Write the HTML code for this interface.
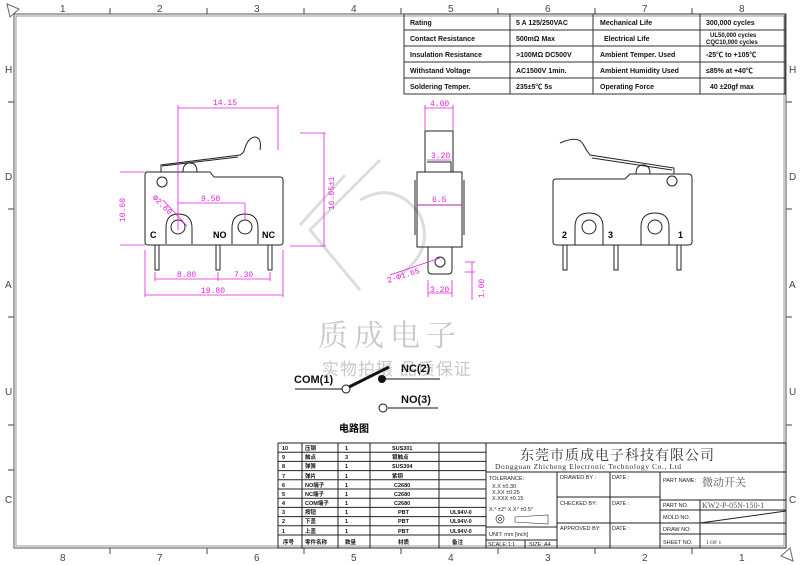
<!DOCTYPE html>
<html><head><meta charset="utf-8"><style>
html,body{margin:0;padding:0;background:#fff;}
svg{display:block;}
text{font-family:"Liberation Sans","Noto Sans CJK SC",sans-serif;}
.s{font-family:"Liberation Serif","Noto Serif CJK SC",serif;}
.m{stroke:#e020e0;stroke-width:0.8;fill:none;}
.mt{fill:#e020e0;font-size:8px;font-family:"Liberation Mono",monospace;}
.k{stroke:#222;stroke-width:1;fill:none;}
.b{font-weight:bold;font-size:9px;}
.t{font-size:7px;}
</style></head><body>
<svg width="800" height="565" viewBox="0 0 800 565" xmlns="http://www.w3.org/2000/svg">
<rect x="14" y="14" width="772" height="534" fill="none" stroke="#555" stroke-width="1"/>
<rect x="16" y="16" width="768" height="530" fill="none" stroke="#999" stroke-width="1"/>
<polygon points="7,4 19,9 10,17" fill="none" stroke="#666"/>
<polygon points="793,561 781,556 790,548" fill="none" stroke="#666"/>
<g font-size="10" fill="#444">
<text x="60" y="12">1</text><text x="157" y="12">2</text><text x="254" y="12">3</text><text x="351" y="12">4</text><text x="448" y="12">5</text><text x="545" y="12">6</text><text x="642" y="12">7</text><text x="739" y="12">8</text>
<text x="60" y="561">8</text><text x="157" y="561">7</text><text x="254" y="561">6</text><text x="351" y="561">5</text><text x="448" y="561">4</text><text x="545" y="561">3</text><text x="642" y="561">2</text><text x="739" y="561">1</text>
<text x="5" y="73">H</text><text x="5" y="180">D</text><text x="5" y="288">A</text><text x="5" y="395">U</text><text x="5" y="503">C</text>
<text x="789" y="73">H</text><text x="789" y="180">D</text><text x="789" y="288">A</text><text x="789" y="395">U</text><text x="789" y="503">C</text>
</g>
<g stroke="#444" stroke-width="1">
<path d="M110 8V14M207 8V14M304 8V14M401 8V14M498 8V14M595 8V14M692 8V14"/>
<path d="M110 548V554M207 548V554M304 548V554M401 548V554M498 548V554M595 548V554M692 548V554"/>
<path d="M8 102H14M8 209H14M8 317H14M8 425H14M8 470H14M786 102H792M786 209H792M786 317H792M786 425H792"/>
</g>
<g stroke="#333" stroke-width="1" fill="none">
<rect x="404" y="14" width="381" height="80"/>
<path d="M404 30H785M404 46H785M404 62H785M404 78H785M510 14V94M593 14V94M700 14V94"/>
</g>
<g class="t" font-weight="bold" fill="#111">
<text x="410" y="25">Rating</text><text x="516" y="25">5 A  125/250VAC</text><text x="600" y="25">Mechanical Life</text><text x="706" y="25">300,000 cycles</text>
<text x="410" y="41">Contact Resistance</text><text x="516" y="41">500mΩ  Max</text><text x="604" y="41">Electrical Life</text><text x="710" y="37" font-size="6">UL50,000 cycles</text><text x="706" y="44" font-size="6">CQC10,000 cycles</text>
<text x="410" y="57">Insulation Resistance</text><text x="516" y="57">&gt;100MΩ DC500V</text><text x="600" y="57">Ambient Temper. Used</text><text x="706" y="57">-25℃ to +105℃</text>
<text x="410" y="73">Withstand Voltage</text><text x="516" y="73">AC1500V  1min.</text><text x="600" y="73">Ambient Humidity Used</text><text x="706" y="73">≤85% at +40℃</text>
<text x="410" y="89">Soldering Temper.</text><text x="516" y="89">235±5℃ 5s</text><text x="600" y="89">Operating Force</text><text x="710" y="89">40 ±20gf max</text>
</g>
<g fill="none" stroke="#ddd" stroke-width="3">
<path d="M380 160 L310 230 L360 290 M345 175 L300 225"/>
<path d="M360 200 Q395 180 420 215 Q435 250 400 275"/>
</g>
<text x="318" y="346" font-size="30" fill="#c8c8c8" letter-spacing="6" class="s">质成电子</text>
<text x="322" y="375" font-size="17" fill="#c8c8c8" letter-spacing="1">实物拍摄 品质保证</text>
<g class="k">
<path d="M146 172 H210 L214 177 H280 Q283 177 283 180 V242 Q283 245 280 245 H148 Q145 245 145 242 V175 Q145 172 148 172Z"/>
<path d="M166 244 V228 Q166 214 178 214 Q192 214 192 228 V244 M232 244 V228 Q232 214 245 214 Q258 214 258 228 V244"/>
<circle cx="178" cy="227" r="7"/><circle cx="245" cy="227" r="7"/>
<circle cx="162" cy="182" r="5"/>
<path d="M155 245V270H159V245M216 245V270H220V245M268 245V270H272V245"/>
<path d="M183 172 Q183 163 190 163 Q197 163 197 172"/>
<path d="M161 172 V165 L240 155 Q244 153 245 148 Q248 138 255 137 Q262 138 260 150"/>
<path d="M162 166 L238 157"/>
</g>
<g class="b"><text x="150" y="238">C</text><text x="213" y="238">NO</text><text x="262" y="238">NC</text></g>
<g class="m">
<path d="M178 105V230M278 105V150M178 108H278M178 203H245M245 203V220M300 133H326M290 246H326M324 133V246M145 250V297M283 250V297M145 295H283M155 272V281M218 272V281M270 272V281M155 279H270M163 200L187 226M120 172H145M120 245H145"/>
</g>
<text class="mt" x="213" y="105">14.15</text><text class="mt" x="201" y="201">9.50</text>
<text class="mt" x="177" y="277">8.80</text><text class="mt" x="234" y="277">7.30</text><text class="mt" x="201" y="293">19.80</text>
<text class="mt" transform="translate(334,210) rotate(-90)">16.05±1</text>
<text class="mt" transform="translate(125,222) rotate(-90)">10.60</text>
<text class="mt" transform="translate(152,198) rotate(45)">Φ2.60</text>
<g class="k">
<rect x="417" y="172" width="45" height="75"/>
<rect x="425" y="131" width="28" height="41"/>
<path d="M427 162H451V172"/>
<path d="M428 247V270Q428 274 432 274H448Q452 274 452 270V247"/>
<circle cx="440" cy="262" r="5"/>
<path d="M417 205H462M415 180V235M464 180V235"/>
</g>
<g class="m">
<path d="M425 105V131M453 105V131M425 108H453M427 160H451M417 205H462M440 258L390 275M428 280V297M452 280V297M428 293H452M465 262H475M465 272H475M472 262V300"/>
</g>
<text class="mt" x="430" y="106">4.00</text><text class="mt" x="431" y="158">3.20</text><text class="mt" x="432" y="202">6.5</text>
<text class="mt" x="430" y="292">3.20</text><text class="mt" transform="translate(388,283) rotate(-18)">2-Φ1.65</text>
<text class="mt" transform="translate(484,298) rotate(-90)">1.00</text>
<g class="k">
<path d="M556 179 H625 L630 174 H688 Q692 174 692 178 V242 Q692 245 688 245 H557 Q553 245 553 242 V182 Q553 179 556 179Z"/>
<path d="M575 245V227Q575 213 589 213Q603 213 603 227V245M641 245V227Q641 213 655 213Q669 213 669 227V245"/>
<circle cx="589" cy="227" r="7"/><circle cx="655" cy="227" r="7"/>
<circle cx="672" cy="181" r="5"/>
<path d="M563 245V270H567V245M614 245V270H618V245M677 245V270H681V245"/>
<path d="M636 174Q636 165 643 165Q650 165 650 174"/>
<path d="M674 174V168L590 155Q586 150 583 144Q578 135 560 143"/>
<path d="M672 170L592 158"/>
</g>
<g class="b"><text x="562" y="238">2</text><text x="608" y="238">3</text><text x="678" y="238">1</text></g>
<g font-family="Liberation Mono, monospace" font-size="11" font-weight="bold" fill="#111">
<text x="294" y="383">COM(1)</text><text x="401" y="372">NC(2)</text><text x="401" y="403">NO(3)</text>
</g>
<g stroke="#111" fill="none" stroke-width="1">
<path d="M295 389H342M383 379H440M388 408H438"/>
<circle cx="346" cy="389" r="4" fill="#fff"/>
<circle cx="383" cy="408" r="4" fill="#fff"/>
<path d="M349 387L389 367" stroke-width="3"/>
</g>
<circle cx="382" cy="379" r="4" fill="#111"/>
<text x="339" y="432" font-size="10" font-weight="bold">电路图</text>
<g stroke="#222" stroke-width="1" fill="none">
<rect x="278" y="443" width="508" height="105"/>
<path d="M278 452.2H486M278 461.4H486M278 470.6H486M278 479.8H486M278 489H486M278 498.2H486M278 507.4H486M278 516.6H486M278 525.8H486M278 535H486"/>
<path d="M302 443V548M338 443V548M370 443V548M439 443V548M486 443V548"/>
<path d="M486 472H786M557 472V548M610 472V548M660 472V548M557 497H660M557 523H660M660 500H786M660 510H786M660 523H786M660 534H786M700 500V548M486 527H557M486 540H557M525 540V548M700 523L786 511"/>
</g>
<g font-size="5.5" font-weight="bold" fill="#111">
<text x="282" y="450">10</text><text x="305" y="450">压钢</text><text x="345" y="450">1</text><text x="392" y="450">SUS301</text>
<text x="282" y="459">9</text><text x="305" y="459">触点</text><text x="345" y="459">3</text><text x="392" y="459">银触点</text>
<text x="282" y="468">8</text><text x="305" y="468">弹簧</text><text x="345" y="468">1</text><text x="392" y="468">SUS304</text>
<text x="282" y="478">7</text><text x="305" y="478">弹片</text><text x="345" y="478">1</text><text x="392" y="478">紫铜</text>
<text x="282" y="487">6</text><text x="305" y="487">NO端子</text><text x="345" y="487">1</text><text x="394" y="487">C2680</text>
<text x="282" y="496">5</text><text x="305" y="496">NC端子</text><text x="345" y="496">1</text><text x="394" y="496">C2680</text>
<text x="282" y="505">4</text><text x="305" y="505">COM端子</text><text x="345" y="505">1</text><text x="394" y="505">C2680</text>
<text x="282" y="514">3</text><text x="305" y="514">按钮</text><text x="345" y="514">1</text><text x="398" y="514">PBT</text><text x="450" y="514">UL94V-0</text>
<text x="282" y="523">2</text><text x="305" y="523">下盖</text><text x="345" y="523">1</text><text x="398" y="523">PBT</text><text x="450" y="523">UL94V-0</text>
<text x="282" y="533">1</text><text x="305" y="533">上盖</text><text x="345" y="533">1</text><text x="398" y="533">PBT</text><text x="450" y="533">UL94V-0</text>
<text x="283" y="544">序号</text><text x="305" y="544">零件名称</text><text x="345" y="544">数量</text><text x="398" y="544">材质</text><text x="452" y="544">备注</text>
</g>
<text x="520" y="460" font-size="14" class="s" fill="#333" letter-spacing="1">东莞市质成电子科技有限公司</text>
<text x="495" y="469" font-size="7.5" class="s" fill="#333" letter-spacing="0.6">Dongguan Zhicheng Electronic Technology Co., Ltd</text>
<g font-size="5.5" fill="#222">
<text x="489" y="480">TOLERANCE:</text><text x="492" y="488">X.X   ±0.30</text><text x="492" y="494">X.XX  ±0.25</text><text x="492" y="500">X.XXX ±0.15</text>
<text x="489" y="511">X.° ±2°    X.X° ±0.5°</text>
<text x="489" y="536">UNIT:  mm  [inch]</text><text x="488" y="546">SCALE:1:1</text><text x="529" y="546">SIZE: A4</text>
<text x="560" y="479">DRAWED BY :</text><text x="560" y="505">CHECKED BY:</text><text x="560" y="530">APPROVED BY:</text>
<text x="612" y="479">DATE :</text><text x="612" y="505">DATE :</text><text x="612" y="530">DATE :</text>
<text x="663" y="482">PART NAME:</text><text x="663" y="507">PART NO.</text><text x="663" y="519">MOLD NO.</text><text x="663" y="531">DRAW NO:</text><text x="663" y="544">SHEET NO.</text>
<text x="706" y="544" class="s">1 OF 1</text>
</g>
<text x="702" y="486" font-size="11" class="s" fill="#555">微动开关</text>
<text x="702" y="508" font-size="8" class="s" fill="#555">KW2-P-05N-150-1</text>
<circle cx="500" cy="519" r="4" fill="none" stroke="#333" stroke-width="0.7"/><circle cx="500" cy="519" r="1.5" fill="none" stroke="#333" stroke-width="0.7"/>
<path d="M515 517L548 515V524L515 522Z" fill="none" stroke="#333" stroke-width="0.6"/>
</svg>
</body></html>
